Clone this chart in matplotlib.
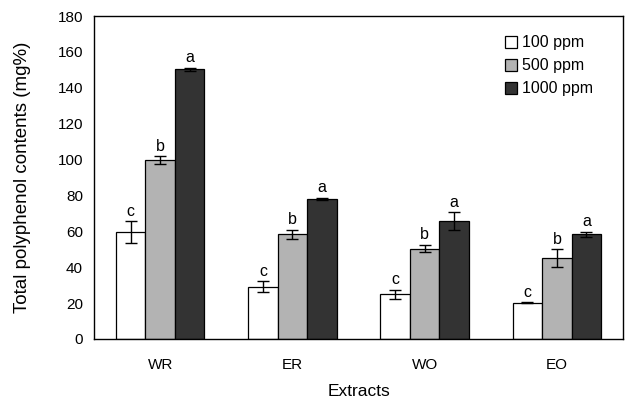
import matplotlib.pyplot as plt
import numpy as np

extracts = ['WR', 'ER', 'WO', 'EO']
labels = ['100 ppm', '500 ppm', '1000 ppm']
ppm100 = [59.5, 29.2, 25.0, 20.2]
ppm500 = [99.8, 58.3, 50.4, 45.0]
ppm1000 = [150.3, 78.0, 65.6, 58.3]
err100 = [6.0, 3.0, 2.5, 0.3]
err500 = [2.0, 2.5, 2.0, 5.0]
err1000 = [1.0, 0.5, 5.0, 1.5]
letters100 = ['c', 'c', 'c', 'c']
letters500 = ['b', 'b', 'b', 'b']
letters1000 = ['a', 'a', 'a', 'a']

plt.rcParams['font.family'] = ['Liberation Sans', 'DejaVu Sans']

fig = plt.figure(figsize=(6.27, 4.0), dpi=100)
ax = fig.add_axes([0.150, 0.1525, 0.8436, 0.8075])

x = np.arange(len(extracts))
w = 0.223
series = [(ppm100, err100, letters100, 'white'),
          (ppm500, err500, letters500, '#b3b3b3'),
          (ppm1000, err1000, letters1000, '#333333')]
for i, (vals, errs, lets, col) in enumerate(series):
    xs = x + (i - 1) * w
    ax.bar(xs, vals, w, color=col, edgecolor='black', linewidth=0.9,
           label=labels[i], zorder=2)
    ax.errorbar(xs, vals, yerr=errs, fmt='none', ecolor='black',
                elinewidth=1, capsize=4, capthick=1, zorder=3)
    for xi, v, e, t in zip(xs, vals, errs, lets):
        ax.text(xi, v + e + 1.5, t, ha='center', va='bottom', fontsize=11.5)

ax.set_xlim(-0.5, 3.5)
ax.set_ylim(0, 180)
ax.set_yticks(range(0, 181, 20))
ax.set_xticks(x)
ax.set_xticklabels(extracts)
ax.tick_params(length=0, labelsize=11, pad=8)
ax.tick_params(axis='x', pad=14)
ax.set_xlabel('Extracts', fontsize=12.5, labelpad=8)
ax.set_ylabel('Total polyphenol contents (mg%)', fontsize=13.5, labelpad=19)
for s in ax.spines.values():
    s.set_linewidth(1)

ax.legend(loc='upper left', bbox_to_anchor=(0.765, 0.96), frameon=False,
          fontsize=11.5, handlelength=0.75, handleheight=0.75,
          handletextpad=0.3, labelspacing=0.5, borderaxespad=0)

fig.savefig('out.png', dpi=100)
